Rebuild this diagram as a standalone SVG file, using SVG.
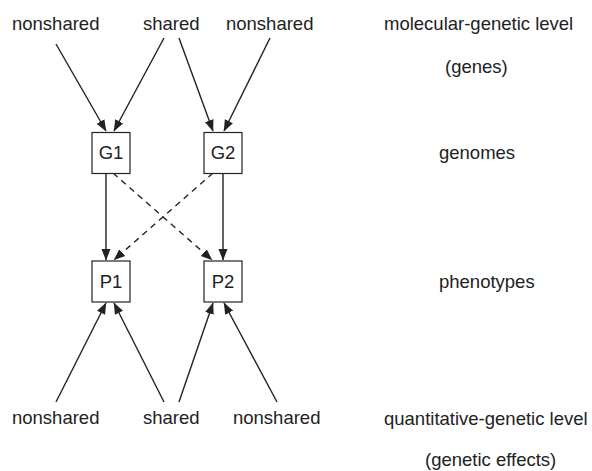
<svg xmlns="http://www.w3.org/2000/svg" width="592" height="471" viewBox="0 0 592 471">
  <style>
    text { font-family: "Liberation Sans", Arial, sans-serif; font-size: 18.5px; fill: #222; }
    .box { fill: #fff; stroke: #222; stroke-width: 1.2; }
    .lbl { text-anchor: middle; }
    .edge { stroke: #222; stroke-width: 1.4; fill: none; marker-end: url(#arrow); }
    .dash { stroke-dasharray: 6 5; }
  </style>
  <defs>
    <marker id="arrow" markerUnits="userSpaceOnUse" markerWidth="12" markerHeight="10" viewBox="0 0 12 10" refX="11" refY="5" orient="auto">
      <path d="M0,0.5 L11.5,5 L0,9.5 Z" fill="#222"/>
    </marker>
  </defs>

  <rect width="592" height="471" fill="#fff"/>

  <!-- source labels -->
  <g id="top-sources">
    <text x="12" y="30">nonshared</text>
    <text x="143" y="30">shared</text>
    <text x="226" y="30">nonshared</text>
  </g>
  <g id="bottom-sources">
    <text x="12" y="424">nonshared</text>
    <text x="143" y="424">shared</text>
    <text x="233" y="424">nonshared</text>
  </g>

  <!-- level annotations -->
  <g id="levels">
    <text x="384" y="30">molecular-genetic level</text>
    <text x="445" y="73">(genes)</text>
    <text x="439" y="159">genomes</text>
    <text x="439" y="288">phenotypes</text>
    <text x="384" y="425">quantitative-genetic level</text>
    <text x="425" y="466">(genetic effects)</text>
  </g>

  <!-- connectors -->
  <g id="connectors">
    <line class="edge" x1="56" y1="44" x2="106" y2="131"/>
    <line class="edge" x1="164" y1="38" x2="114" y2="131"/>
    <line class="edge" x1="179" y1="38" x2="213" y2="131"/>
    <line class="edge" x1="270" y1="38" x2="224" y2="131"/>

    <line class="edge" x1="106" y1="173" x2="106" y2="260"/>
    <line class="edge" x1="223" y1="173" x2="223" y2="260"/>
    <line class="edge dash" x1="113" y1="173" x2="212" y2="260"/>
    <line class="edge dash" x1="213" y1="173" x2="114" y2="260"/>

    <line class="edge" x1="56" y1="402" x2="106" y2="303"/>
    <line class="edge" x1="164" y1="402" x2="114" y2="303"/>
    <line class="edge" x1="179" y1="402" x2="213" y2="303"/>
    <line class="edge" x1="277" y1="402" x2="224" y2="303"/>
  </g>

  <!-- nodes -->
  <g id="G1">
    <rect class="box" x="92" y="132.5" width="38" height="41"/>
    <text class="lbl" x="111" y="159">G1</text>
  </g>
  <g id="G2">
    <rect class="box" x="204" y="132.5" width="38" height="41"/>
    <text class="lbl" x="223" y="159">G2</text>
  </g>
  <g id="P1">
    <rect class="box" x="92" y="261" width="38" height="41"/>
    <text class="lbl" x="111" y="288">P1</text>
  </g>
  <g id="P2">
    <rect class="box" x="204" y="261" width="38" height="41"/>
    <text class="lbl" x="223" y="288">P2</text>
  </g>
</svg>
